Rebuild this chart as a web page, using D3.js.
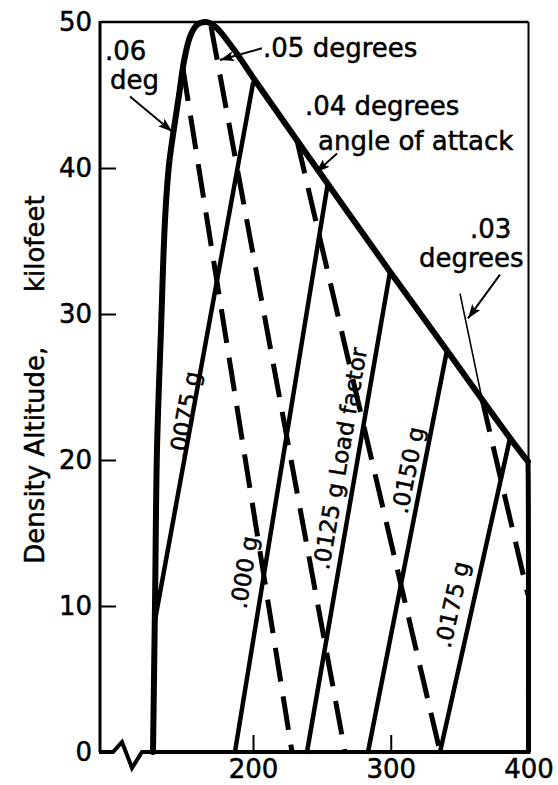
<!DOCTYPE html>
<html>
<head>
<meta charset="utf-8">
<script src="https://cdn.jsdelivr.net/npm/d3@7"></script>
<style>
  body { margin: 0; background: #fff; }
  svg { display: block; }
  text { font-family: "DejaVu Sans", sans-serif; fill: #000; stroke: #000; stroke-width: 0.5px; }
</style>
</head>
<body>
<svg id="chart" width="558" height="785"></svg>
<script>
// ---- data (airspeed, density altitude in kilofeet) ----
const xTickValues = [200, 300, 400];
const yTickValues = [0, 10, 20, 30, 40, 50];

// Flight envelope: left boundary, rounded ceiling, sloping upper boundary
const envelopeSpeed = [127.4, 128.9, 130.3, 133.2, 136.1, 139.0, 142.6, 146.3, 149.9, 154.3, 159.3, 165.9, 172.4, 185.5, 200.0, 231.9, 299.5, 340.8, 386.6, 399.6];
const envelopeAlt   = [0.0,   10.4,  20.7,  28.9,  36.4,  40.2,  42.7,  45.0,  47.3,  49.0,  49.8,  50.0,  49.7,  48.2,  46.2,  41.9,  32.9,  27.5,  21.5,  19.9];
// Right-hand limit of the envelope
const limitSpeed = [399.6, 400.0];
const limitAlt   = [19.9, 0.0];

// Load factor lines (solid)
const loadLabels     = [".0075 g", ".000 g", ".0125 g Load factor", ".0150 g", ".0175 g"];
const loadStartSpeed = [129.2, 186.9, 239.2, 283.5, 335.8];
const loadStartAlt   = [9.2,   0.0,   0.0,   0.0,   0.0];
const loadEndSpeed   = [200.0, 254.4, 299.5, 340.8, 386.6];
const loadEndAlt     = [45.8,  39.0,  32.9,  27.5,  21.5];

// Angle of attack lines (dashed)
const aoaLabels     = [".06", ".05", ".04", ".03"];
const aoaStartSpeed = [149.0, 169.5, 231.9, 366.2];
const aoaStartAlt   = [46.9,  49.7,  41.9,  24.2];
const aoaEndSpeed   = [228.3, 266.8, 335.8, 399.6];
const aoaEndAlt     = [0.0,   0.0,   0.0,   10.75];
// .03 degree line continued outside the envelope (thin)
const aoaOutsideSpeed = [350.3, 366.2];
const aoaOutsideAlt   = [31.4, 24.2];

// ---- layout ----
const svg = d3.select("#chart");
const frameLeft = 100;
const x = d3.scaleLinear().domain([200, 400]).range([253, 528.5]);
const y = d3.scaleLinear().domain([0, 50]).range([752, 22]);
const frameRight = x(400), frameTop = y(50), frameBottom = y(0);
const fontMain = 26, fontLine = 23;

const defs = svg.append("defs");
defs.append("marker")
  .attr("id", "head")
  .attr("markerUnits", "userSpaceOnUse")
  .attr("viewBox", "0 0 14 10")
  .attr("markerWidth", 14).attr("markerHeight", 10)
  .attr("refX", 14).attr("refY", 5)
  .attr("orient", "auto")
  .append("path").attr("d", "M0,0 L14,5 L0,10 L3,5 Z").attr("fill", "#000");

// Frame
const frame = svg.append("g").attr("fill", "none").attr("stroke", "#000");
frame.append("line").attr("x1", frameLeft).attr("x2", frameLeft)
  .attr("y1", frameTop - 1).attr("y2", frameBottom).attr("stroke-width", 3);
frame.append("line").attr("x1", frameLeft).attr("x2", frameRight)
  .attr("y1", frameTop).attr("y2", frameTop).attr("stroke-width", 2.5);
frame.append("line").attr("x1", frameRight).attr("x2", frameRight)
  .attr("y1", frameTop).attr("y2", frameBottom).attr("stroke-width", 2);
// Base line with the axis break symbol
frame.append("path")
  .attr("stroke-width", 4).attr("stroke-linejoin", "miter")
  .attr("d", `M${frameLeft - 1},${frameBottom} H${frameLeft + 13} L${frameLeft + 22},${frameBottom - 10} L${frameLeft + 32},${frameBottom + 16} L${frameLeft + 42},${frameBottom} H${frameRight + 2}`);

// Axes (inward ticks)
const yAxis = svg.append("g").attr("transform", `translate(${frameLeft},0)`)
  .call(d3.axisLeft(y).tickValues(yTickValues).tickSizeInner(-16).tickSizeOuter(0).tickPadding(8));
yAxis.select(".domain").remove();
yAxis.selectAll(".tick line").attr("stroke-width", 2)
  .attr("display", d => (d === 0 || d === 50) ? "none" : null);
yAxis.selectAll("text").attr("font-size", fontMain).attr("font-family", "DejaVu Sans, sans-serif");

const xAxis = svg.append("g").attr("transform", `translate(0,${frameBottom})`)
  .call(d3.axisBottom(x).tickValues(xTickValues).tickSizeInner(-17).tickSizeOuter(0).tickPadding(8));
xAxis.select(".domain").remove();
xAxis.selectAll(".tick line").attr("stroke-width", 2)
  .attr("display", d => d === 400 ? "none" : null);
xAxis.selectAll("text").attr("font-size", fontMain).attr("font-family", "DejaVu Sans, sans-serif");

// Y axis title
svg.append("text").attr("font-size", fontMain)
  .attr("transform", `translate(44,${y(12.9)}) rotate(-90)`)
  .text("Density Altitude,");
svg.append("text").attr("font-size", fontMain)
  .attr("transform", `translate(44,${y(31.5)}) rotate(-90)`)
  .text("kilofeet");

// Envelope
const env = envelopeSpeed.map((s, i) => [s, envelopeAlt[i]]);
svg.append("path")
  .attr("d", d3.line().x(d => x(d[0])).y(d => y(d[1])).curve(d3.curveCatmullRom.alpha(0.5))(env))
  .attr("fill", "none").attr("stroke", "#000").attr("stroke-width", 6)
  .attr("stroke-linejoin", "round").attr("stroke-linecap", "round");
svg.append("path")
  .attr("d", d3.line().x(d => x(d[0])).y(d => y(d[1])).curve(d3.curveBasis)(
      [[limitSpeed[0], limitAlt[0]], [limitSpeed[1], limitAlt[0] - 1.5], [limitSpeed[1], limitAlt[1]]]))
  .attr("fill", "none").attr("stroke", "#000").attr("stroke-width", 5);

// Load factor lines
const loadG = svg.append("g");
loadLabels.forEach((lab, i) => {
  loadG.append("line")
    .attr("x1", x(loadStartSpeed[i])).attr("y1", y(loadStartAlt[i]))
    .attr("x2", x(loadEndSpeed[i])).attr("y2", y(loadEndAlt[i]))
    .attr("stroke", "#000").attr("stroke-width", 4.5).attr("stroke-linecap", "round");
});

// Angle of attack lines
const aoaG = svg.append("g");
aoaLabels.forEach((lab, i) => {
  aoaG.append("line")
    .attr("x1", x(aoaStartSpeed[i])).attr("y1", y(aoaStartAlt[i]))
    .attr("x2", x(aoaEndSpeed[i])).attr("y2", y(aoaEndAlt[i]))
    .attr("stroke", "#000").attr("stroke-width", 5)
    .attr("stroke-dasharray", "34,15");
});
aoaG.append("line")
  .attr("x1", x(aoaOutsideSpeed[0])).attr("y1", y(aoaOutsideAlt[0]))
  .attr("x2", x(aoaOutsideSpeed[1])).attr("y2", y(aoaOutsideAlt[1]))
  .attr("stroke", "#000").attr("stroke-width", 1.6);

// Rotated labels along the load factor lines: [speed, alt] of the label centre
const loadLabelAt = [[150.6, 23.1], [193.6, 12.3], [263.2, 20.1], [312.5, 19.3], [344.5, 10.1]];
loadLabels.forEach((lab, i) => {
  const dx = x(loadEndSpeed[i]) - x(loadStartSpeed[i]);
  const dy = y(loadEndAlt[i]) - y(loadStartAlt[i]);
  const ang = Math.atan2(dy, dx) * 180 / Math.PI;
  svg.append("text")
    .attr("font-size", fontLine)
    .attr("text-anchor", "middle").attr("dominant-baseline", "central")
    .attr("transform", `translate(${x(loadLabelAt[i][0])},${y(loadLabelAt[i][1])}) rotate(${ang})`)
    .text(lab);
});

// Angle of attack annotations
const notes = [
  { text: ".06", at: [92.6, 47.4] },
  { text: "deg", at: [96.2, 45.4] },
  { text: ".05 degrees", at: [207.3, 47.6] },
  { text: ".04 degrees", at: [237.7, 43.6] },
  { text: "angle of attack", at: [247.2, 41.2] },
  { text: ".03", at: [357.5, 35.2] },
  { text: "degrees", at: [320.5, 33.2] }
];
notes.forEach(n => {
  svg.append("text").attr("font-size", fontMain)
    .attr("x", x(n.at[0])).attr("y", y(n.at[1])).text(n.text);
});

const arrows = [
  [[110.7, 44.9], [141.2, 42.5]],
  [[206.5, 48.2], [176.0, 47.4]],
  [[261.0, 41.0], [245.7, 39.7]],
  [[379.3, 32.7], [356.1, 29.7]]
];
arrows.forEach(a => {
  svg.append("line")
    .attr("x1", x(a[0][0])).attr("y1", y(a[0][1]))
    .attr("x2", x(a[1][0])).attr("y2", y(a[1][1]))
    .attr("stroke", "#000").attr("stroke-width", 2)
    .attr("marker-end", "url(#head)");
});
</script>
</body>
</html>
